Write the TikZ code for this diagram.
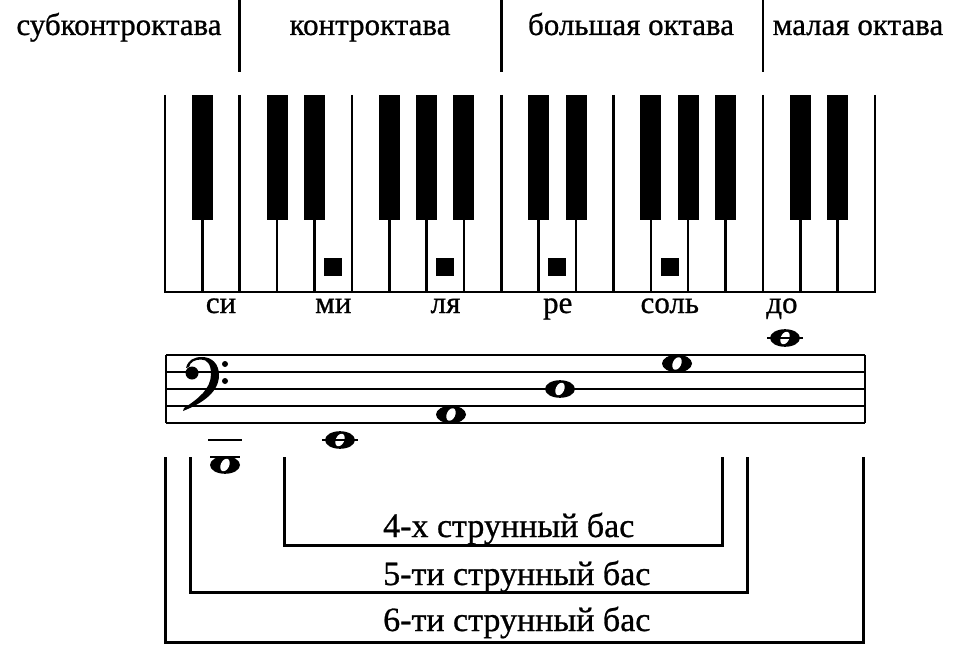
\documentclass[tikz,border=0pt]{standalone}
\usepackage{fontspec}
\setmainfont{Liberation Serif}[FakeBold=0.8]
\begin{document}
\begin{tikzpicture}[x=1pt,y=-1pt,
  keyline/.style={line width=2.6pt},
  sepline/.style={line width=2.6pt},
  staffline/.style={line width=2pt},
  ledger/.style={line width=2.2pt},
  brk/.style={line width=3pt, line join=miter},
  lbl/.style={font=\fontsize{31}{36}\selectfont, inner sep=0pt, anchor=base},
  blbl/.style={font=\fontsize{34}{40}\selectfont, inner sep=0pt, anchor=base west},
  wnote/.pic={\fill (0,0) ellipse [x radius=15, y radius=8.8];
              \fill[white, rotate=-25] (0,0) ellipse [x radius=4.2, y radius=6.6];}
]
\useasboundingbox (0,0) rectangle (968,658);
\fill[white] (0,0) rectangle (968,658);

% octave labels and separators
\node[lbl] (sub) at (119,35) {субконтроктава};
\node[lbl] (kontr) at (370,35) {контроктава};
\node[lbl] (bolsh) at (631,35) {большая октава};
\node[lbl] (mal) at (858,35) {малая октава};
\draw[sepline] (239.7,0) -- (239.7,72);
\draw[sepline] (501.3,0) -- (501.3,72);
\draw[sepline] (763,0) -- (763,72);

% keyboard
\foreach \i in {0,2,5,9,12,16,19}
  \draw[keyline] ({165+37.37*\i},95) -- ({165+37.37*\i},292);
\foreach \i in {1,3,4,6,7,8,10,11,13,14,15,17,18} {
  \draw[keyline] ({165+37.37*\i},218) -- ({165+37.37*\i},292);
  \fill ({165+37.37*\i-10.5},95) rectangle ({165+37.37*\i+10.5},220);
}
\draw[keyline, line cap=rect] (165,292) -- (875,292);
\foreach \i in {4,7,10,13}
  \fill ({165+37.37*(\i+0.5)-9},258) rectangle ({165+37.37*(\i+0.5)+9},276);

% note names
\node[lbl] (si) at (221,313) {си};
\node[lbl] (mi) at (333.3,313) {ми};
\node[lbl] (lya) at (445.5,313) {ля};
\node[lbl] (re) at (557.7,313) {ре};
\node[lbl] (sol) at (669.8,313) {соль};
\node[lbl] (do) at (781.9,313) {до};

% staff
\foreach \y in {355,372,389,406,423}
  \draw[staffline] (166,\y) -- (865,\y);
\draw[staffline] (166,355) -- (166,423);
\draw[staffline] (865,355) -- (865,423);

% bass clef
\fill (192,373) circle (6.5);
\fill (186,368) .. controls (188,360) and (194,357) .. (202,357)
      .. controls (212,357) and (219,364) .. (219,375)
      .. controls (219,392) and (203,403) .. (183,411)
      -- (184,408) .. controls (198,399) and (211,389) .. (211,374)
      .. controls (211,364) and (207,359.5) .. (201,359.5)
      .. controls (195,359.5) and (190,362) .. (189,367) -- cycle;
\fill (225,364) circle (3);
\fill (225,381) circle (3);

% notes
\draw[ledger] (208,440) -- (242,440);
\pic at (225,465) {wnote};
\draw[ledger] (210,457) -- (240,457);
\pic at (340,440) {wnote};
\draw[ledger] (322,440) -- (358,440);
\pic at (451,414.5) {wnote};
\pic at (560,389) {wnote};
\pic at (677,363.5) {wnote};
\pic at (785,338) {wnote};
\draw[ledger] (767,338) -- (803,338);

% bass ranges
\draw[brk] (284,457) -- (284,545) -- (722,545) -- (722,457);
\draw[brk] (190,457) -- (190,592) -- (747,592) -- (747,457);
\draw[brk] (165,457) -- (165,642) -- (863,642) -- (863,457);
\node[blbl] (b4) at (383,537) {4-х струнный бас};
\node[blbl] (b5) at (383,585) {5-ти струнный бас};
\node[blbl] (b6) at (383,631) {6-ти струнный бас};
\end{tikzpicture}
\end{document}
